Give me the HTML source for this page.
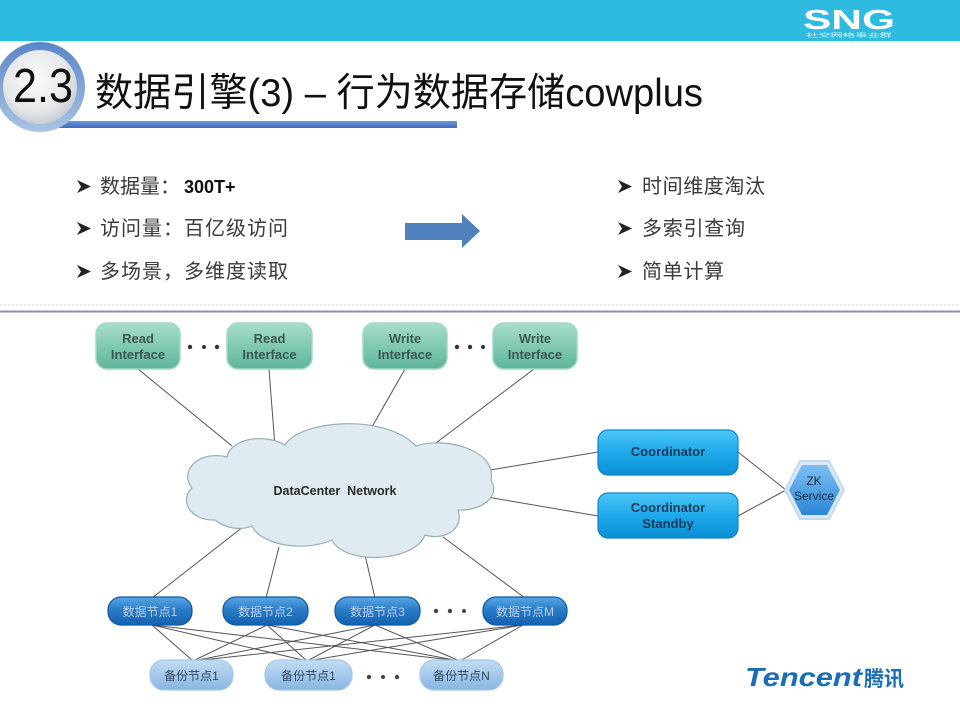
<!DOCTYPE html>
<html><head><meta charset="utf-8"><style>
html,body{margin:0;padding:0;background:#fff;}
svg{display:block;}
</style></head><body>
<svg width="960" height="720" viewBox="0 0 960 720" xmlns="http://www.w3.org/2000/svg">
<defs>
<radialGradient id="cin" cx="45%" cy="40%" r="60%"><stop offset="0" stop-color="#fbfbfb"/><stop offset="0.7" stop-color="#e6e8ea"/><stop offset="1" stop-color="#c9ced4"/></radialGradient>
<linearGradient id="ring" x1="0" y1="0" x2="0" y2="1"><stop offset="0" stop-color="#5a86c6"/><stop offset="1" stop-color="#a9c4e4"/></linearGradient>
<linearGradient id="bar" x1="0" y1="0" x2="0" y2="1"><stop offset="0" stop-color="#6f97d6"/><stop offset="1" stop-color="#3f6cb8"/></linearGradient>
<linearGradient id="gint" x1="0" y1="0" x2="0" y2="1"><stop offset="0" stop-color="#a9ddcd"/><stop offset="0.5" stop-color="#80c9b3"/><stop offset="1" stop-color="#5fb59c"/></linearGradient>
<linearGradient id="gco" x1="0" y1="0" x2="0" y2="1"><stop offset="0" stop-color="#4cc6f7"/><stop offset="0.5" stop-color="#1ea9ea"/><stop offset="1" stop-color="#0b8ed5"/></linearGradient>
<linearGradient id="gdn" x1="0" y1="0" x2="0" y2="1"><stop offset="0" stop-color="#5aa8e6"/><stop offset="0.45" stop-color="#2a7cc8"/><stop offset="1" stop-color="#1561ae"/></linearGradient>
<linearGradient id="gbk" x1="0" y1="0" x2="0" y2="1"><stop offset="0" stop-color="#c2dcf4"/><stop offset="1" stop-color="#88b6e2"/></linearGradient>
<linearGradient id="ghex" x1="0" y1="0" x2="0" y2="1"><stop offset="0" stop-color="#7cc0f4"/><stop offset="1" stop-color="#2d86d6"/></linearGradient>
</defs>

<!-- header bar -->
<rect x="0" y="0" width="960" height="41" fill="#2ebbdf"/>
<rect x="0" y="41" width="960" height="2" fill="#e8f6fb"/>
<text x="803" y="29" font-family="Liberation Sans, sans-serif" font-weight="bold" font-size="28" fill="#ffffff" textLength="92" lengthAdjust="spacingAndGlyphs">SNG</text>
<text x="806" y="37" font-family="Liberation Sans, 'Noto Sans CJK SC', sans-serif" font-size="5" fill="#e6f6fb" textLength="86" lengthAdjust="spacingAndGlyphs">社交网络事业群</text>

<!-- title -->
<rect x="55" y="121" width="402" height="7" fill="url(#bar)"/>
<circle cx="40" cy="87" r="45" fill="url(#ring)"/>
<circle cx="40" cy="87" r="37" fill="url(#cin)"/>
<text x="13" y="102" font-family="Liberation Sans, sans-serif" font-size="48" fill="#111" textLength="60" lengthAdjust="spacingAndGlyphs">2.3</text>
<text x="95" y="106" font-family="Liberation Sans, 'Noto Sans CJK SC', sans-serif" font-size="39" fill="#111" textLength="608" lengthAdjust="spacingAndGlyphs">数据引擎(3) – 行为数据存储cowplus</text>

<!-- bullets -->
<g fill="#222">
<polygon points="77,180 91,186.5 77,193 81,186.5"/>
<polygon points="77,222 91,228.5 77,235 81,228.5"/>
<polygon points="77,265 91,271.5 77,278 81,271.5"/>
<polygon points="618,180 632,186.5 618,193 622,186.5"/>
<polygon points="618,222 632,228.5 618,235 622,228.5"/>
<polygon points="618,265 632,271.5 618,278 622,271.5"/>
</g>
<g font-family="Liberation Sans, 'Noto Sans CJK SC', sans-serif" font-size="20" fill="#3a3a3a">
<text x="100" y="193">数据量：<tspan font-weight="bold" font-size="18" fill="#111" dx="4">300T+</tspan></text>
<text x="100" y="235" textLength="188" lengthAdjust="spacing">访问量：百亿级访问</text>
<text x="100" y="278" textLength="188" lengthAdjust="spacing">多场景，多维度读取</text>
<text x="642" y="193" textLength="123" lengthAdjust="spacing">时间维度淘汰</text>
<text x="642" y="235" textLength="103" lengthAdjust="spacing">多索引查询</text>
<text x="642" y="278" textLength="82" lengthAdjust="spacing">简单计算</text>
</g>
<polygon points="405,223 462,223 462,214 480,231 462,248 462,240 405,240" fill="#4f81bd"/>

<!-- separators -->
<line x1="0" y1="305" x2="960" y2="305" stroke="#d4d8dc" stroke-width="1" stroke-dasharray="2,2"/>
<line x1="0" y1="311.5" x2="960" y2="311.5" stroke="#8096b0" stroke-width="2"/>

<!-- connectors -->
<g stroke="#555" stroke-width="1" fill="none">
<line x1="138" y1="369" x2="232" y2="446"/>
<line x1="269" y1="369" x2="275" y2="447"/>
<line x1="405" y1="369" x2="372" y2="427"/>
<line x1="534" y1="369" x2="420" y2="455"/>
<line x1="490" y1="470" x2="598" y2="452"/>
<line x1="487" y1="497" x2="598" y2="516"/>
<line x1="738" y1="452" x2="786" y2="490"/>
<line x1="738" y1="516" x2="786" y2="490"/>
<line x1="248" y1="523" x2="152" y2="598"/>
<line x1="279" y1="547" x2="266" y2="598"/>
<line x1="365" y1="555" x2="375" y2="598"/>
<line x1="443" y1="537" x2="525" y2="598"/>
<!-- mesh -->
<line x1="152" y1="625" x2="193" y2="661"/>
<line x1="152" y1="625" x2="307" y2="661"/>
<line x1="152" y1="625" x2="460" y2="661"/>
<line x1="267" y1="625" x2="193" y2="661"/>
<line x1="267" y1="625" x2="307" y2="661"/>
<line x1="267" y1="625" x2="460" y2="661"/>
<line x1="375" y1="625" x2="193" y2="661"/>
<line x1="375" y1="625" x2="307" y2="661"/>
<line x1="375" y1="625" x2="460" y2="661"/>
<line x1="523" y1="625" x2="193" y2="661"/>
<line x1="523" y1="625" x2="307" y2="661"/>
<line x1="523" y1="625" x2="460" y2="661"/>
</g>

<!-- cloud -->
<path d="M215,520 C190,521 179,500 192,488 C178,470 200,450 227,457 C230,440 262,432 285,445 C300,420 385,413 416,446 C445,436 497,450 491,480 C501,497 481,511 458,510 C465,530 442,541 425,535 C415,562 345,566 332,540 C305,552 262,546 252,526 C240,531 225,528 215,520 Z" fill="#dfeaf1" stroke="#98aeb8" stroke-width="1.2"/>
<text x="335" y="495" text-anchor="middle" font-family="Liberation Sans, sans-serif" font-weight="bold" font-size="12.5" fill="#2a2a2a" xml:space="preserve">DataCenter  Network</text>

<!-- interface boxes -->
<g stroke="#9fd8c6" stroke-width="1.5" fill="url(#gint)">
<rect x="96" y="323" width="84" height="46" rx="11"/>
<rect x="227" y="323" width="85" height="46" rx="11"/>
<rect x="363" y="323" width="84" height="46" rx="11"/>
<rect x="493" y="323" width="84" height="46" rx="11"/>
</g>
<g font-family="Liberation Sans, sans-serif" font-weight="bold" font-size="13" fill="#3b5752" text-anchor="middle">
<text x="138" y="343">Read</text><text x="138" y="359">Interface</text>
<text x="269.5" y="343">Read</text><text x="269.5" y="359">Interface</text>
<text x="405" y="343">Write</text><text x="405" y="359">Interface</text>
<text x="535" y="343">Write</text><text x="535" y="359">Interface</text>
</g>
<g fill="#333">
<circle cx="190" cy="347" r="2.2"/><circle cx="204" cy="347" r="2"/><circle cx="217" cy="347" r="2.2"/>
<circle cx="457" cy="347" r="2.2"/><circle cx="470" cy="347" r="2.2"/><circle cx="483" cy="347" r="2"/>
</g>

<!-- coordinators -->
<g stroke="#0e86c8" stroke-width="1.2" fill="url(#gco)">
<rect x="598" y="430" width="140" height="45" rx="10"/>
<rect x="598" y="493" width="140" height="45" rx="10"/>
</g>
<g font-family="Liberation Sans, sans-serif" font-weight="bold" font-size="13" fill="#1d3a5c" text-anchor="middle">
<text x="668" y="456">Coordinator</text>
<text x="668" y="512">Coordinator</text>
<text x="668" y="528">Standby</text>
</g>

<!-- ZK hexagon -->
<polygon points="785,490 800,461 829,461 844,490 829,519 800,519" fill="#dbe9f6" stroke="#c6daee" stroke-width="2"/>
<polygon points="789,490 802,465 827,465 840,490 827,515 802,515" fill="url(#ghex)"/>
<g font-family="Liberation Sans, sans-serif" font-size="12" fill="#1c2c44" text-anchor="middle">
<text x="814" y="485">ZK</text>
<text x="814" y="500">Service</text>
</g>

<!-- data nodes -->
<g stroke="#0f5aa6" stroke-width="1.2" fill="url(#gdn)">
<rect x="108" y="597" width="84" height="28" rx="13"/>
<rect x="223" y="597" width="85" height="28" rx="13"/>
<rect x="335" y="597" width="85" height="28" rx="13"/>
<rect x="483" y="597" width="84" height="28" rx="13"/>
</g>
<g font-family="Liberation Sans, 'Noto Sans CJK SC', sans-serif" font-size="12" fill="#bcd0e4" text-anchor="middle">
<text x="150" y="616">数据节点1</text>
<text x="265.5" y="616">数据节点2</text>
<text x="377.5" y="616">数据节点3</text>
<text x="525" y="616">数据节点M</text>
</g>
<g fill="#444">
<circle cx="436" cy="611" r="2.2"/><circle cx="450" cy="611" r="2.2"/><circle cx="464" cy="611" r="2"/>
</g>

<!-- backup nodes -->
<g stroke="#a6c8ea" stroke-width="1.2" fill="url(#gbk)">
<rect x="150" y="660" width="83" height="30" rx="14"/>
<rect x="265" y="660" width="87" height="30" rx="14"/>
<rect x="420" y="660" width="83" height="30" rx="14"/>
</g>
<g font-family="Liberation Sans, 'Noto Sans CJK SC', sans-serif" font-size="12" fill="#34465a" text-anchor="middle">
<text x="191.5" y="680">备份节点1</text>
<text x="308.5" y="680">备份节点1</text>
<text x="461.5" y="680">备份节点N</text>
</g>
<g fill="#444">
<circle cx="369" cy="677" r="2.2"/><circle cx="383" cy="677" r="2"/><circle cx="397" cy="677" r="2.2"/>
</g>

<!-- Tencent logo -->
<text x="745" y="686" font-family="Liberation Sans, sans-serif" font-style="italic" font-weight="bold" font-size="26" fill="#1b6db6" textLength="117" lengthAdjust="spacingAndGlyphs">Tencent</text>
<text x="864" y="686" font-family="Liberation Sans, 'Noto Sans CJK SC', sans-serif" font-weight="bold" font-size="21" fill="#1b6db6" textLength="40" lengthAdjust="spacingAndGlyphs">腾讯</text>
</svg>
</body></html>
